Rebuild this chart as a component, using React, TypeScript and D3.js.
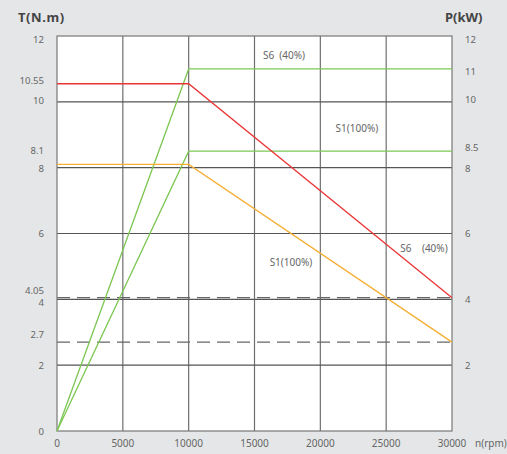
import React from "react";
import * as d3 from "d3";

const speedTicks = [0, 5000, 10000, 15000, 20000, 25000, 30000];
const leftTicks = [0, 2, 2.7, 4, 4.05, 6, 8, 8.1, 10, 10.55, 12];
const rightTicks = [2, 4, 6, 8, 8.5, 10, 11, 12];
const gridY = [2, 4, 6, 8, 10];
const dashedY = [4.05, 2.7];

const s6Torque = [
  { n: 0, v: 10.55 },
  { n: 10000, v: 10.55 },
  { n: 30000, v: 4.05 },
];
const s1Torque = [
  { n: 0, v: 8.1 },
  { n: 10000, v: 8.1 },
  { n: 30000, v: 2.7 },
];
const s6Power = [
  { n: 0, v: 0 },
  { n: 10000, v: 11 },
  { n: 30000, v: 11 },
];
const s1Power = [
  { n: 0, v: 0 },
  { n: 10000, v: 8.5 },
  { n: 30000, v: 8.5 },
];

const annotations = [
  { n: 17240, v: 11.42, text: "S6\u00a0\u00a0(40%)" },
  { n: 22780, v: 9.2, text: "S1(100%)" },
  { n: 17770, v: 5.13, text: "S1(100%)" },
  { n: 27870, v: 5.56, text: "S6\u00a0\u00a0\u00a0\u00a0(40%)" },
];

const leftOffsets: Record<string, number> = {
  "12": 3,
  "10.55": -3,
  "10": -1,
  "8.1": -13.5,
  "8": 0.5,
  "4.05": -7.5,
  "4": 3,
  "2.7": -8,
  "2": 0,
  "0": 0,
};
const rightOffsets: Record<string, number> = {
  "12": 3,
  "11": 3,
  "10": -2,
  "8.5": -3.5,
  "8": 0.5,
};

const W = 507;
const H = 454;
const L = 57;
const R = 452;
const T = 36;
const B = 431;

export default function App() {
  const x = d3.scaleLinear().domain([0, 30000]).range([L, R]);
  const yT = d3.scaleLinear().domain([0, 12]).range([B, T]);
  const yP = d3.scaleLinear().domain([0, 12]).range([B, T]);
  const lineT = d3
    .line<{ n: number; v: number }>()
    .x((d) => x(d.n))
    .y((d) => yT(d.v));
  const lineP = d3
    .line<{ n: number; v: number }>()
    .x((d) => x(d.n))
    .y((d) => yP(d.v));
  const font = "'Noto Sans', sans-serif";
  const tickColor = "#666";
  return (
    <svg
      width={W}
      height={H}
      style={{ position: "absolute", left: 0, top: 0, background: "#e5e6e8" }}
      fontFamily={font}
    >
      <rect x={L} y={T} width={R - L} height={B - T} fill="#fff" />
      {speedTicks.slice(1, -1).map((t) => (
        <line key={"vx" + t} x1={x(t)} x2={x(t)} y1={T} y2={B} stroke="#6e6e6e" strokeWidth={1.2} />
      ))}
      {gridY.map((t) => (
        <line key={"gy" + t} x1={L} x2={R} y1={yT(t)} y2={yT(t)} stroke="#555" strokeWidth={1.2} />
      ))}
      {dashedY.map((t) => (
        <line
          key={"dy" + t}
          x1={L}
          x2={R}
          y1={yT(t)}
          y2={yT(t)}
          stroke="#666"
          strokeWidth={1.2}
          strokeDasharray="13 7"
        />
      ))}
      <rect x={L} y={T} width={R - L} height={B - T} fill="none" stroke="#777" strokeWidth={1.2} />
      <path d={lineP(s6Power) || ""} fill="none" stroke="#7cc753" strokeWidth={1.3} />
      <path d={lineP(s1Power) || ""} fill="none" stroke="#7cc753" strokeWidth={1.3} />
      <path d={lineT(s1Torque) || ""} fill="none" stroke="#f6ae35" strokeWidth={1.3} />
      <path d={lineT(s6Torque) || ""} fill="none" stroke="#ea3535" strokeWidth={1.3} />
      {leftTicks.map((t) => (
        <text
          key={"lt" + t}
          x={44}
          y={yT(t) + (leftOffsets[String(t)] || 0)}
          textAnchor="end"
          dominantBaseline="central"
          fontSize={9.6}
          fill={tickColor}
        >
          {String(t)}
        </text>
      ))}
      {rightTicks.map((t) => (
        <text
          key={"rt" + t}
          x={465}
          y={yP(t) + (rightOffsets[String(t)] || 0)}
          textAnchor="start"
          dominantBaseline="central"
          fontSize={9.6}
          fill={tickColor}
        >
          {String(t)}
        </text>
      ))}
      {speedTicks.map((t) => (
        <text key={"xt" + t} x={x(t)} y={447} textAnchor="middle" fontSize={10} fill={tickColor}>
          {String(t)}
        </text>
      ))}
      <text x={475} y={447} fontSize={10} fill={tickColor}>
        n(rpm)
      </text>
      <text x={18} y={22} fontSize={13} fontWeight="bold" fill="#444" letterSpacing={0.6}>
        T(N.m)
      </text>
      <text x={445} y={22} fontSize={13} fontWeight="bold" fill="#444">
        P(kW)
      </text>
      {annotations.map((a, i) => (
        <text
          key={"an" + i}
          x={x(a.n)}
          y={yT(a.v)}
          textAnchor="middle"
          dominantBaseline="central"
          fontSize={10}
          fill="#666"
        >
          {a.text}
        </text>
      ))}
    </svg>
  );
}
